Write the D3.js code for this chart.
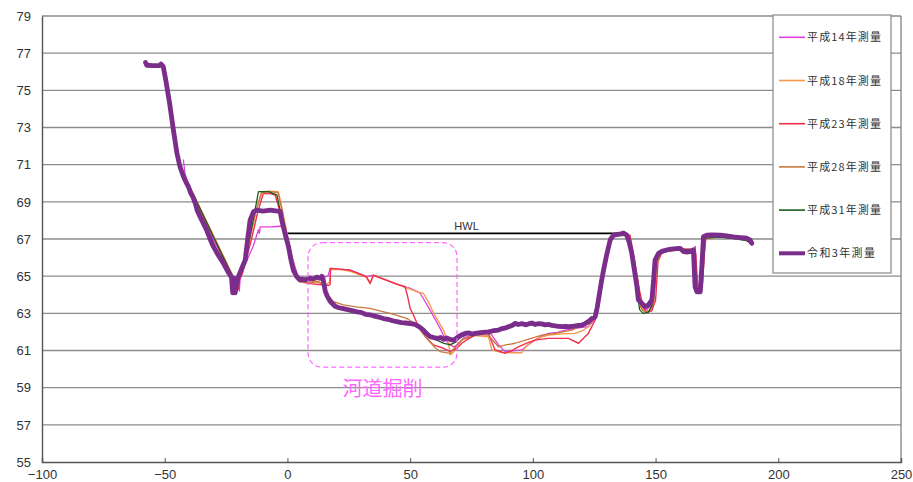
<!DOCTYPE html>
<html><head><meta charset="utf-8">
<script src="https://cdn.jsdelivr.net/npm/d3@7"></script>
<style>body{margin:0;background:#fff}svg{display:block}</style>
</head><body><svg id="c" width="913" height="482"></svg>
<script>
const xTicks = [-100,-50,0,50,100,150,200,250];
const yTicks = [55,57,59,61,63,65,67,69,71,73,75,77,79];
const seriesNames = ["平成14年測量","平成18年測量","平成23年測量","平成28年測量","平成31年測量","令和3年測量"];
const seriesColors = ["#e040e0","#f79646","#f0304a","#c8783c","#1e5a1e","#7b2d8b"];
const hwl = {x0:0, x1:138.3, y:67.3, label:"HWL"};
const noteLabel = "河道掘削";
const noteBox = {x0:8.4, x1:69.1, y0:66.8, y1:60.1};

const h14 = [[-42.4,71.25],[-41.7,70.5],[-40,69.8],[-30,66.9],[-22,64.95],[-21.2,64.2],[-20.5,64.9],[-19.6,64.2],[-19.3,64.8],[-17,65.7],[-14,66.6],[-11.8,67.5],[-11.4,67.3],[-11.1,67.65],[-6,67.66],[-1.6,67.7],[-0.3,67.3],[2,66.0],[4,65.1],[5.5,64.85],[10,64.85],[14,64.9],[16.5,65.0],[17.4,65.42],[21,65.38],[25.5,65.33],[29,65.15],[32.4,64.97],[35,65.05],[40,64.8],[44,64.6],[47.3,64.43],[50,64.35],[52.5,64.2],[54.1,64.08],[55.4,63.8],[58,63.2],[60.5,62.6],[62.2,62.19],[64.9,61.47],[67.6,61.2],[69.5,61.3],[72,61.7],[76.5,61.9],[81.9,61.95],[83.3,61.83],[86,61.3],[88.7,60.94],[92,60.98],[95.5,61.03],[98,61.3],[100.9,61.56],[104,61.8],[106.4,61.92],[110,61.98],[113.2,62.1],[118,62.2],[122.6,62.28],[125.4,62.7],[126.8,63.5],[128.5,65.0],[130.5,66.5],[132,67.1],[136,67.25],[138.8,67.2],[140.8,66.0],[143,64.2],[144,63.4],[146.5,63.2],[148.5,63.5],[150,65.6],[151.5,66.2],[155,66.4],[160,66.45],[165.5,66.5],[166.2,66.6],[166.5,65.5],[167.3,64.2],[168.5,64.3],[169.5,66],[170.3,67.15],[176,67.2],[182,67.12],[187,67.0],[189.2,66.75]];

const h18 = [[-43.6,70.9],[-40,69.9],[-22,64.95],[-21.5,64.3],[-20.8,64.9],[-19,65.0],[-16,66.7],[-13,68.4],[-10.4,69.55],[-7,69.58],[-3.7,69.55],[-2.3,68.74],[-1,67.8],[1.5,66.2],[3.5,65.1],[5,64.75],[8,64.7],[12,64.75],[14.5,64.6],[16,64.55],[17.2,64.7],[17.6,65.35],[22,65.35],[26,65.25],[29,65.1],[32.3,64.95],[33.7,64.65],[35,65.05],[40,64.8],[44,64.6],[47.3,64.45],[50,64.3],[53,64.15],[55.4,64.08],[57.5,63.6],[60,62.9],[63.6,62.1],[65.6,61.39],[66.3,60.76],[67.6,60.9],[69.2,61.35],[71.5,61.6],[76.5,61.8],[81.9,61.74],[83.3,61.03],[87,60.9],[91,60.88],[95.5,60.88],[97,61.2],[99.6,61.47],[103,61.7],[106.4,61.83],[112,61.9],[117.2,61.92],[120,62.05],[122.6,62.28],[124.7,62.73],[126,63.0],[127.5,64.2],[129.5,65.8],[131.3,66.9],[133,67.2],[137,67.25],[139.3,67.15],[141,66.0],[143,64.5],[144.5,63.2],[146,63.05],[148.2,63.1],[149.3,63.6],[150.5,65.6],[152,66.2],[155,66.35],[160,66.45],[165.2,66.45],[166,66.3],[166.8,64.8],[167.5,64.25],[169,64.3],[169.8,66],[170.5,67.05],[176,67.1],[182,67.05],[187,66.95],[189.2,66.8]];

const h23 = [[-43.5,70.8],[-40,69.8],[-22,64.9],[-21.2,64.2],[-20.5,64.85],[-19.8,64.3],[-19.5,64.9],[-18.5,65.1],[-15,66.8],[-12,68.5],[-9.8,69.46],[-7,69.45],[-5,69.37],[-3.3,68.6],[-1.5,67.5],[0.5,66.5],[2.5,65.6],[4,65.0],[5.5,64.7],[9,64.6],[13,64.55],[16.8,64.5],[17.4,64.55],[17.5,65.42],[21,65.38],[25.5,65.33],[29,65.15],[32.2,64.95],[33.7,64.6],[35,65.05],[40,64.8],[44,64.6],[47.96,64.43],[49,63.9],[50,63.27],[51.7,62.8],[53.4,62.28],[55,61.95],[56.8,61.65],[59.5,61.3],[63.6,61.12],[66.3,60.94],[69,61.12],[71.1,61.39],[74,61.65],[76.5,61.83],[81.9,61.92],[84.6,61.03],[88.7,60.85],[91.5,61.0],[94.1,61.2],[97.5,61.4],[100.9,61.56],[106.4,61.65],[114.5,61.65],[118.6,61.39],[122.6,61.92],[125.4,62.64],[126.7,63.36],[128.2,64.6],[130,65.9],[131.6,66.8],[133,67.15],[137,67.25],[139.6,67.2],[141.5,65.8],[143.5,64.2],[145,63.3],[146.5,63.05],[148.5,63.15],[150,63.7],[151,65.8],[152.5,66.25],[156,66.4],[160,66.45],[165.6,66.4],[166.4,66.2],[167,64.7],[167.7,64.3],[169,64.4],[169.8,66.2],[170.5,67.1],[176,67.15],[182,67.1],[187,67.0],[189.2,66.8]];

const h28 = [[-43.7,70.9],[-40,69.8],[-22,64.95],[-21.5,64.3],[-20.8,64.9],[-18.5,65.3],[-15.5,66.9],[-12.8,68.5],[-10.6,69.5],[-7,69.55],[-3.8,69.5],[-2.5,68.7],[-1,67.8],[1.5,66.2],[3.5,65.1],[5,64.7],[9,64.65],[12.5,64.7],[14.7,64.52],[16.5,64.0],[18.7,63.63],[22.8,63.45],[28,63.35],[33.7,63.27],[38,63.12],[41.8,63.0],[45,62.88],[48.6,62.73],[50.8,62.55],[52.7,62.37],[55.5,61.9],[58.1,61.47],[60.2,61.15],[62.2,60.94],[66.3,60.85],[69,61.3],[71.5,61.6],[76.5,61.85],[81.9,61.83],[84,61.5],[86,61.2],[89,61.3],[92.8,61.39],[98,61.6],[103.7,61.83],[109.1,61.92],[115.9,62.1],[120,62.37],[123.3,62.46],[125.5,62.8],[127,63.8],[128.8,65.2],[130.8,66.6],[132.5,67.15],[136,67.2],[139,67.15],[140.8,66.2],[142.8,64.5],[144,63.3],[145.5,63.1],[147.5,63.15],[149,63.5],[150.3,65.5],[151.8,66.2],[155,66.35],[160,66.42],[165.3,66.42],[166.3,64.6],[167.2,64.2],[168.8,64.25],[169.6,66],[170.3,67.05],[176,67.1],[182,67.05],[187,66.95],[189.2,66.8]];

const h31 = [[-43.8,70.9],[-40,69.85],[-22.3,64.95],[-21.6,64.25],[-20.8,64.85],[-18.2,65.4],[-15.5,67.0],[-13.2,68.56],[-11.8,69.55],[-7.7,69.55],[-4.3,69.37],[-3,68.56],[-1.5,67.6],[1,66.2],[3,65.1],[4.8,64.75],[8,64.75],[12,64.85],[13.5,64.85],[14.5,64.75],[15.5,64.1],[17.4,63.6],[19.4,63.35],[24,63.2],[30,63.02],[36,62.85],[42,62.65],[48,62.48],[52.7,62.35],[55.4,62.05],[58.1,61.7],[60.9,61.56],[63.5,61.4],[66.3,61.3],[68.5,61.45],[70.5,61.7],[74,61.9],[78,61.95],[82,61.98],[86,62.05],[90,62.2],[93,62.35],[98,62.38],[104,62.38],[110,62.28],[115,62.22],[120,62.3],[123.5,62.6],[125.4,62.8],[126.5,63.6],[128,64.8],[129.5,66.0],[131,66.9],[132.5,67.18],[136,67.25],[138.5,67.2],[140,66.3],[142.2,64.5],[143.5,63.2],[145,63.0],[147,63.05],[148.5,63.4],[149.7,65.7],[151,66.2],[154,66.35],[160,66.45],[165.2,66.4],[166,64.5],[166.7,64.15],[168.2,64.15],[169.3,66.5],[170,67.05],[176,67.1],[182,67.02],[187,66.92],[189.2,66.7]];

const r3 = [[-57.8,76.5],[-57.3,76.35],[-55,76.33],[-52,76.33],[-51.5,76.42],[-50.6,76.28],[-49.5,75.5],[-48,74.3],[-46.5,72.9],[-45,71.6],[-43.8,70.9],[-42.5,70.4],[-41.5,70.1],[-40.3,69.8],[-39.5,69.5],[-38.5,69.25],[-37.5,68.9],[-36.8,68.55],[-35.6,68.2],[-34.5,67.9],[-33,67.5],[-31.5,67.0],[-30.2,66.6],[-28.5,66.2],[-26.1,65.7],[-24.5,65.3],[-22.8,64.95],[-22.3,64.1],[-21.8,64.9],[-21.3,64.1],[-20.8,64.5],[-20.2,64.9],[-19,65.3],[-17.2,65.87],[-16.2,67.0],[-15.2,68.02],[-13.8,68.47],[-12.5,68.55],[-10,68.5],[-7,68.55],[-4,68.5],[-3,68.5],[-2.3,68.0],[-1,67.3],[0.4,66.6],[1.4,65.9],[2.4,65.33],[3.8,64.97],[5,64.8],[6,64.85],[7.5,64.8],[9,64.9],[10.5,64.85],[12,64.95],[13.3,64.88],[14,65.0],[14.6,64.8],[15.4,64.2],[16.3,63.9],[17.4,63.65],[18.5,63.5],[19.4,63.38],[21,63.3],[22.8,63.25],[24.5,63.2],[26.3,63.15],[28.3,63.08],[30,63.05],[31.8,62.95],[33.7,62.92],[35.5,62.85],[37.2,62.8],[39.1,62.72],[41,62.68],[42.8,62.6],[44.6,62.55],[46.5,62.5],[48.2,62.48],[50,62.45],[51.5,62.42],[52.7,62.35],[54,62.25],[55.4,62.1],[56.8,61.9],[58.1,61.75],[59.5,61.7],[60.9,61.65],[62.5,61.7],[63.7,61.6],[64.9,61.68],[66.3,61.6],[67.6,61.55],[68.7,61.65],[69.7,61.75],[71,61.85],[72.4,61.92],[74,61.95],[75.2,61.88],[76.5,61.92],[78,61.95],[79.5,61.98],[81.9,62.0],[83.5,62.05],[85,62.08],[86,62.1],[87.5,62.18],[89,62.22],[90.1,62.28],[91.5,62.35],[92.8,62.46],[94,62.4],[95.5,62.45],[97,62.38],[98.2,62.43],[99.6,62.48],[101,62.4],[102.3,62.45],[103.7,62.43],[105,62.38],[106.4,62.4],[107.8,62.35],[109.1,62.32],[110.5,62.3],[112,62.28],[113.2,62.3],[114.5,62.28],[116,62.3],[117.3,62.32],[118.6,62.35],[120,62.37],[121.3,62.45],[122.6,62.55],[124,62.72],[125.4,62.82],[126.2,63.3],[126.7,63.7],[127.8,64.6],[128.8,65.33],[130,66.1],[131.5,66.95],[132.8,67.2],[134.5,67.25],[136,67.28],[136.9,67.32],[138.3,67.2],[139.3,66.8],[140.3,66.23],[141.4,65.3],[142.4,64.43],[143,63.72],[144.4,63.54],[145.7,63.36],[147.1,63.45],[148.5,63.72],[149.2,64.8],[149.8,65.87],[151.2,66.23],[152.8,66.35],[154.6,66.41],[156.5,66.45],[158.3,66.48],[160,66.5],[161.4,66.32],[162.8,66.3],[164.1,66.32],[165.4,66.41],[166.1,64.43],[166.8,64.16],[168.2,64.16],[168.9,65.6],[169.5,67.12],[170.9,67.21],[173,67.22],[176.3,67.21],[179,67.17],[181.7,67.12],[184.5,67.08],[187.2,67.04],[188.5,66.95],[189.2,66.77]];

const seriesData = [h14,h18,h23,h28,h31,r3];
const seriesWidths = [1.3,1.3,1.4,1.3,1.3,4.8];

const svg = d3.select("#c");
const x = d3.scaleLinear().domain([-100,250]).range([42,901]);
const y = d3.scaleLinear().domain([55,79]).range([462,16]);

// gridlines
svg.append("g").selectAll("line").data(yTicks.filter(v=>v>55)).join("line")
  .attr("x1",x(-100)).attr("x2",x(250)).attr("y1",d=>y(d)).attr("y2",d=>y(d))
  .attr("stroke","#8c8c8c").attr("stroke-width",1.3);
// right border
svg.append("line").attr("x1",x(250)).attr("x2",x(250)).attr("y1",y(79)).attr("y2",y(55))
  .attr("stroke","#777").attr("stroke-width",1.2);

// axes
const xAxis = svg.append("g").attr("transform",`translate(0,${y(55)})`)
  .call(d3.axisBottom(x).tickValues(xTicks).tickSize(-4).tickPadding(8));
const yAxis = svg.append("g").attr("transform",`translate(${x(-100)},0)`)
  .call(d3.axisLeft(y).tickValues(yTicks).tickSize(0).tickPadding(11).tickFormat(d3.format("d")));
[xAxis,yAxis].forEach(a=>{
  a.select(".domain").attr("stroke","#555").attr("stroke-width",1.4);
  a.selectAll(".tick line").attr("stroke","#555");
  a.selectAll("text").attr("fill","#333").style("font-family","'Liberation Sans',Arial,sans-serif").style("font-size","13px");
});

// HWL
svg.append("line").attr("x1",x(hwl.x0)).attr("x2",x(hwl.x1)).attr("y1",y(hwl.y)).attr("y2",y(hwl.y))
  .attr("stroke","#000").attr("stroke-width",1.8);
svg.append("text").attr("x",x(73)).attr("y",y(hwl.y)-3).attr("text-anchor","middle")
  .style("font-family","'Liberation Sans',Arial,sans-serif").style("font-size","11px").attr("fill","#333").text(hwl.label);

// series
const line = d3.line().x(d=>x(d[0])).y(d=>y(d[1]));
seriesData.forEach((s,i)=>{
  svg.append("path").datum(s).attr("d",line).attr("fill","none")
    .attr("stroke",seriesColors[i]).attr("stroke-width",seriesWidths[i])
    .attr("stroke-linejoin","round").attr("stroke-linecap","round");
});

// note box
svg.append("rect").attr("x",x(noteBox.x0)).attr("y",y(noteBox.y0))
  .attr("width",x(noteBox.x1)-x(noteBox.x0)).attr("height",y(noteBox.y1)-y(noteBox.y0))
  .attr("rx",14).attr("ry",14).attr("fill","none").attr("stroke","#ff66ff")
  .attr("stroke-width",1.2).attr("stroke-dasharray","5,3");
svg.append("text").attr("x",(x(noteBox.x0)+x(noteBox.x1))/2).attr("y",396).attr("text-anchor","middle")
  .style("font-family","'Noto Sans CJK JP',sans-serif").style("font-size","20px").attr("fill","#ff66ff").text(noteLabel);

// legend
const lg = svg.append("g");
lg.append("rect").attr("x",773).attr("y",15).attr("width",118).attr("height",258)
  .attr("fill","#fff").attr("stroke","#888").attr("stroke-width",1.2);
seriesNames.forEach((n,i)=>{
  const cy = 37.3 + i*43.2;
  lg.append("line").attr("x1",779).attr("x2",805).attr("y1",cy).attr("y2",cy)
    .attr("stroke",seriesColors[i]).attr("stroke-width",i===5?4:1.6);
  lg.append("text").attr("x",807).attr("y",cy+4).attr("fill","#333")
    .attr("textLength",i===5?68:74).attr("lengthAdjust","spacing")
    .style("font-family","'Noto Sans CJK JP',sans-serif").style("font-size","11px").text(n);
});
</script></body></html>
